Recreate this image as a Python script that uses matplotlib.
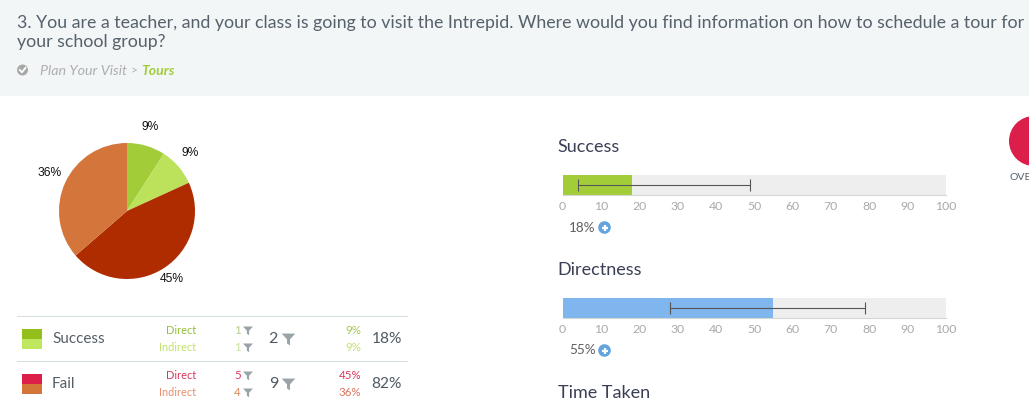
import matplotlib
matplotlib.use("Agg")
import matplotlib.pyplot as plt
from matplotlib.patches import Rectangle, Circle, Polygon

W, H = 1029, 403
FONT = ["Lato", "DejaVu Sans"]
plt.rcParams["font.family"] = FONT

title_lines = ["3. You are a teacher, and your class is going to visit the Intrepid. Where would you find information on how to schedule a tour for",
               "your school group?"]
crumb = "Plan Your Visit"
crumb_tail = "Tours"

pie_counts = [1, 1, 5, 4]
pie_labels = ["9%", "9%", "45%", "36%"]
pie_colors = ["#a2cd39", "#bce15a", "#ae2c00", "#d4753b"]

ticks = [0, 10, 20, 30, 40, 50, 60, 70, 80, 90, 100]
success_val, success_lo, success_hi = 18, 4, 49
direct_val, direct_lo, direct_hi = 55, 28, 79

table_groups = ["Success", "Fail"]
table_kinds = ["Direct", "Indirect"]
table_counts = [[1, 1], [5, 4]]
table_totals = [2, 9]
table_pcts = [["9%", "9%"], ["45%", "36%"]]
table_total_pcts = ["18%", "82%"]

TEXT = "#555f68"
FUNNEL = "#9aa4a8"

fig = plt.figure(figsize=(W / 100, H / 100), dpi=100, facecolor="white")


def px_axes(x0, y0, x1, y1, **kw):
    return fig.add_axes([x0 / W, 1 - y1 / H, (x1 - x0) / W, (y1 - y0) / H], **kw)


bg = fig.add_axes([0, 0, 1, 1])
bg.set_xlim(0, W)
bg.set_ylim(H, 0)
bg.axis("off")
bg.add_patch(Rectangle((0, 0), W, 96, fc="#f2f6f7", ec="none"))


def T(x, y, s, size, color=TEXT, ha="left", va="center", **kw):
    return bg.text(x, y, s, fontsize=size * 0.72, color=color, ha=ha, va=va, **kw)


def funnel(x, y, s, color=FUNNEL):
    bg.add_patch(Polygon([(x - s, y - s * .8), (x + s, y - s * .8), (x + s * .22, y + s * .05),
                          (x + s * .22, y + s * .95), (x - s * .22, y + s * .65), (x - s * .22, y + s * .05)],
                         fc=color, ec="none"))


# Header
T(17, 23, title_lines[0], 17.7, color="#56616b")
T(17, 41.5, title_lines[1], 17.7, color="#56616b")
bg.add_patch(Circle((22.5, 70), 5.5, fc="#a8a8a8", ec="none"))
bg.plot([19.8, 22, 25.5], [70, 72.3, 67.8], color="white", lw=1.3)
T(40, 71, crumb, 14.3, color="#aeaeae", style="italic")
T(131, 71, ">", 12, color="#aeaeae")
T(141, 71, crumb_tail, 14, color="#a2cd39", style="italic", weight="bold")

# Pie
pie_ax = px_axes(59, 143, 195, 279)
pie_ax.pie(pie_counts, colors=pie_colors, startangle=90, counterclock=False, radius=1,
           wedgeprops=dict(linewidth=0))
pie_ax.set_xlim(-1, 1)
pie_ax.set_ylim(-1, 1)
pie_label_xy = [(150, 126.5), (190, 152.5), (172, 278.5), (50, 172.5)]
for (x, y), s in zip(pie_label_xy, pie_labels):
    T(x, y, s, 12, color="#111111", ha="center", family=["Liberation Sans"])

# Table
for y in (316, 361):
    bg.plot([17, 407], [y, y], color="#d5dfe2", lw=0.72)
swatches = [("#93bf1c", "#bfe85f"), ("#dc1f4a", "#d47539")]
kind_colors = [("#93bf3a", "#bfe26a"), ("#d8385a", "#e88f70")]
count_colors = [("#b5cf8a", "#c9e29a"), ("#d8385a", "#d98555")]
pct_colors = [("#a2c850", "#c3e070"), ("#d8385a", "#d9735f")]
for i, group in enumerate(table_groups):
    cy = 339 + 45 * i
    bg.add_patch(Rectangle((22, cy - 10), 20, 10, fc=swatches[i][0], ec="none"))
    bg.add_patch(Rectangle((22, cy), 20, 10, fc=swatches[i][1], ec="none"))
    T(52, cy, group, 15.3)
    for j, kind in enumerate(table_kinds):
        y = cy - 8.5 + 17 * j
        T(196.5, y, kind, 11, color=kind_colors[i][j], ha="right")
        T(241, y, str(table_counts[i][j]), 11.5, color=count_colors[i][j], ha="right")
        funnel(248, y, 5)
        T(361, y, table_pcts[i][j], 11.5, color=pct_colors[i][j], ha="right")
    T(278, cy, str(table_totals[i]), 16, ha="right", color="#4f5963")
    funnel(288.5, cy, 6.8)
    T(402, cy, table_total_pcts[i], 15.5, ha="right", color="#4f5963")


# Bars
def bar_panel(y0, val, lo, hi, color):
    ax = px_axes(562.5, y0, 946, y0 + 20)
    ax.barh([0], [100], height=1, color="#eeeeee", lw=0)
    ax.barh([0], [val], height=1, color=color, lw=0)
    ax.errorbar([val], [0], xerr=[[val - lo], [hi - val]], color="#555555", lw=0.8,
                capsize=4.5, capthick=0.8)
    ax.set_xlim(0, 100)
    ax.set_ylim(-.5, .5)
    ax.set_yticks([])
    ax.set_xticks(ticks)
    ax.tick_params(axis="x", length=0, pad=4.5, labelsize=8.8, labelcolor="#a9a9a9")
    for s in ("top", "left", "right"):
        ax.spines[s].set_visible(False)
    ax.spines["bottom"].set_color("#d6d6d6")
    ax.spines["bottom"].set_linewidth(0.8)


bar_panel(175, success_val, success_lo, success_hi, "#a2cd39")
bar_panel(298, direct_val, direct_lo, direct_hi, "#7fb6ee")

for y, title in ((147, "Success"), (270, "Directness"), (393, "Time Taken")):
    T(557.5, y, title, 18, color="#3a3f55")
for y, s in ((227.5, f"{success_val}%"), (350.5, f"{direct_val}%")):
    T(569, y, s, 13.5, color="#5f5f5f")
    bg.add_patch(Circle((604.5, y), 6.3, fc="#64a5e0", ec="none"))
    bg.plot([601.5, 607.5], [y, y], color="white", lw=1.6, solid_capstyle="butt")
    bg.plot([604.5, 604.5], [y - 3, y + 3], color="white", lw=1.6, solid_capstyle="butt")

# Overall gauge, cut by the right edge
bg.add_patch(Circle((1034, 141), 25, fc="#dc1f4a", ec="none"))
T(1009, 177, "OVE", 10.5, color="#56616b")

bg.set_xlim(0, W)
bg.set_ylim(H, 0)
fig.savefig("out.png", dpi=100)
